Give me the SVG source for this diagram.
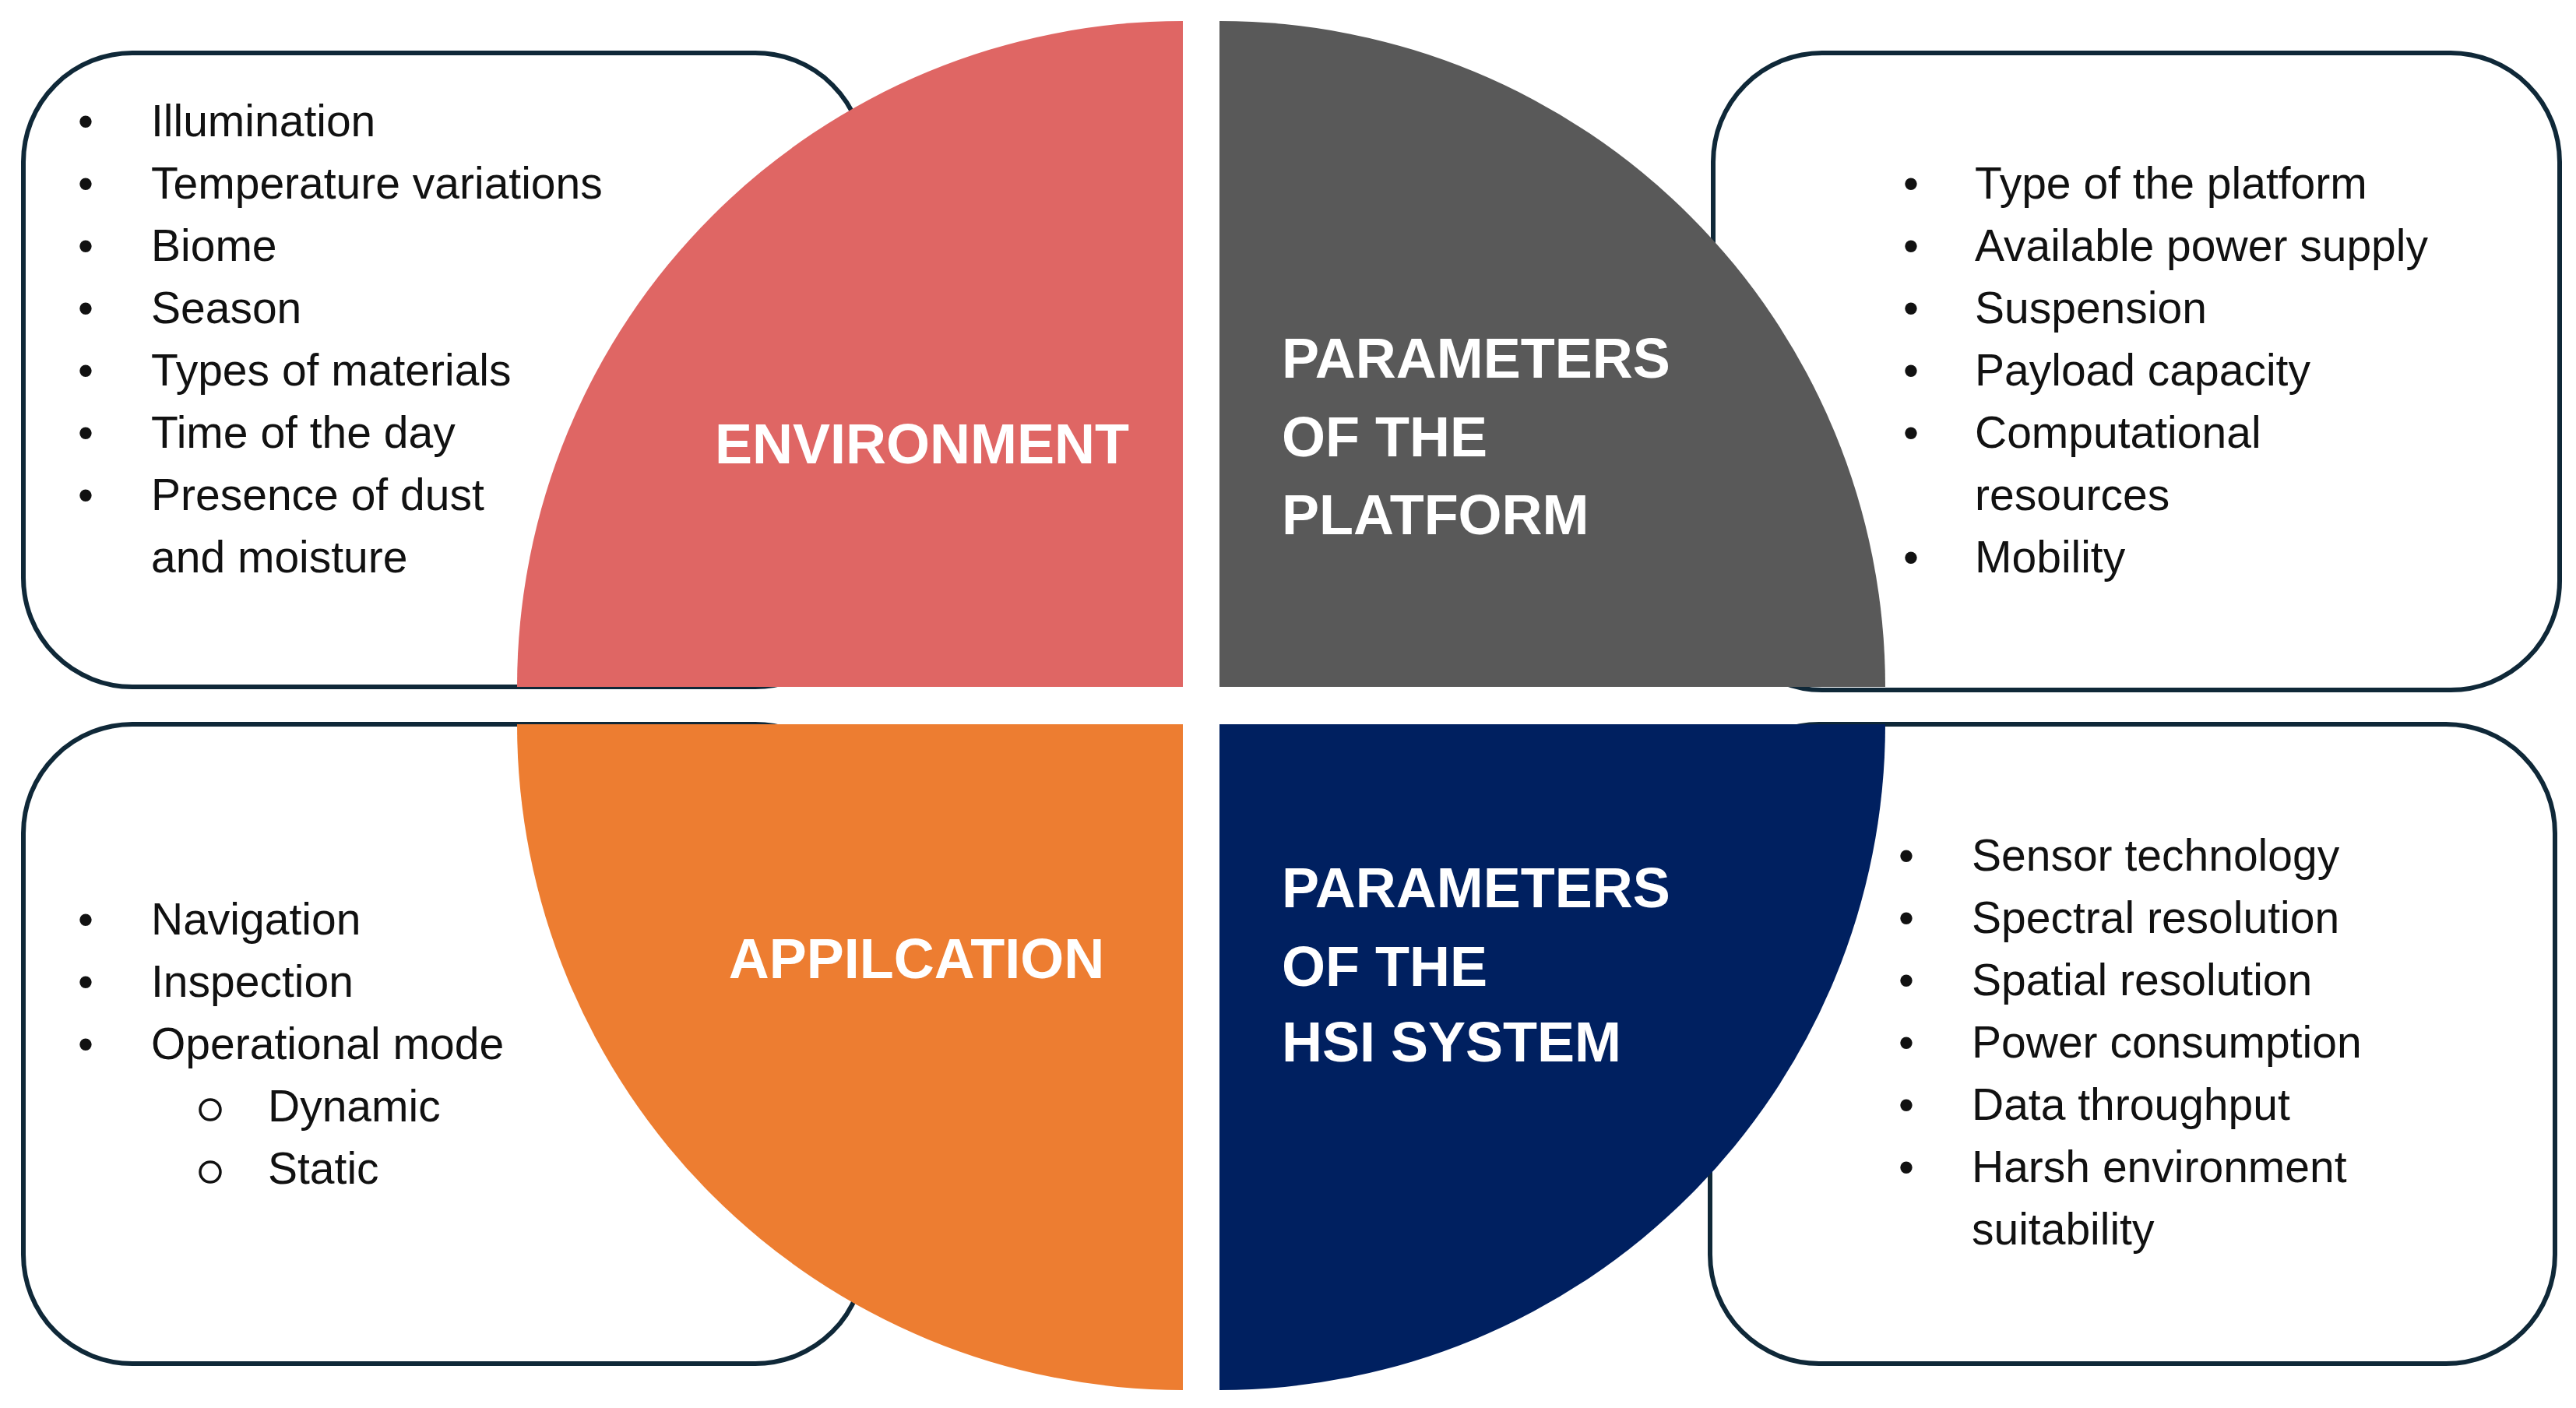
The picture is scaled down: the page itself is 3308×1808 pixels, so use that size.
<svg xmlns="http://www.w3.org/2000/svg" width="3308" height="1808" viewBox="0 0 3308 1808">
<style>
.box{fill:#fff;stroke:#0f2838;stroke-width:6}
.t{font-family:"Liberation Sans",Arial,sans-serif;font-size:57px;fill:#111}
.h{font-family:"Liberation Sans",Arial,sans-serif;font-size:72px;font-weight:bold;fill:#fff}
</style>
<rect width="3308" height="1808" fill="#fff"/>
<g id="box-env"><rect class="box" x="30" y="68" width="1080" height="814" rx="140"/></g>
<g id="box-platform"><rect class="box" x="2200" y="68" width="1087" height="818" rx="140"/></g>
<g id="box-app"><rect class="box" x="30" y="930" width="1080" height="821" rx="140"/></g>
<g id="box-hsi"><rect class="box" x="2196" y="930" width="1085" height="821" rx="140"/></g>
<g id="q-env"><path d="M1519,882 L664,882 A855,855 0 0 1 1519,27 Z" fill="#df6664"/>
<text class="h" x="1184" y="595" text-anchor="middle">ENVIRONMENT</text></g>
<g id="q-platform"><path d="M1566,882 L1566,27 A855,855 0 0 1 2421,882 Z" fill="#595959"/>
<text class="h" x="1646" y="485">PARAMETERS</text><text class="h" x="1646" y="586">OF THE</text><text class="h" x="1646" y="686">PLATFORM</text></g>
<g id="q-app"><path d="M1519,930 L664,930 A855,855 0 0 0 1519,1785 Z" fill="#ed7d31"/>
<text class="h" x="1177" y="1256" text-anchor="middle">APPILCATION</text></g>
<g id="q-hsi"><path d="M1566,930 L2421,930 A855,855 0 0 1 1566,1785 Z" fill="#002060"/>
<text class="h" x="1646" y="1165">PARAMETERS</text><text class="h" x="1646" y="1266">OF THE</text><text class="h" x="1646" y="1363">HSI SYSTEM</text></g>
<g id="connectors"/>
<g id="list-env" class="t">
<text class="t" x="100" y="175">•</text><text class="t" x="194" y="175">Illumination</text>
<text class="t" x="100" y="255">•</text><text class="t" x="194" y="255">Temperature variations</text>
<text class="t" x="100" y="335">•</text><text class="t" x="194" y="335">Biome</text>
<text class="t" x="100" y="415">•</text><text class="t" x="194" y="415">Season</text>
<text class="t" x="100" y="495">•</text><text class="t" x="194" y="495">Types of materials</text>
<text class="t" x="100" y="575">•</text><text class="t" x="194" y="575">Time of the day</text>
<text class="t" x="100" y="655">•</text><text class="t" x="194" y="655">Presence of dust</text>
<text class="t" x="194" y="735">and moisture</text>
</g>
<g id="list-platform">
<text class="t" x="2444" y="255">•</text><text class="t" x="2536" y="255">Type of the platform</text>
<text class="t" x="2444" y="335">•</text><text class="t" x="2536" y="335">Available power supply</text>
<text class="t" x="2444" y="415">•</text><text class="t" x="2536" y="415">Suspension</text>
<text class="t" x="2444" y="495">•</text><text class="t" x="2536" y="495">Payload capacity</text>
<text class="t" x="2444" y="575">•</text><text class="t" x="2536" y="575">Computational</text>
<text class="t" x="2536" y="655">resources</text>
<text class="t" x="2444" y="735">•</text><text class="t" x="2536" y="735">Mobility</text>
</g>
<g id="list-app">
<text class="t" x="100" y="1200">•</text><text class="t" x="194" y="1200">Navigation</text>
<text class="t" x="100" y="1280">•</text><text class="t" x="194" y="1280">Inspection</text>
<text class="t" x="100" y="1360">•</text><text class="t" x="194" y="1360">Operational mode</text>
<circle cx="270" cy="1425" r="13" fill="none" stroke="#111" stroke-width="3.5"/><text class="t" x="344" y="1440">Dynamic</text>
<circle cx="270" cy="1505" r="13" fill="none" stroke="#111" stroke-width="3.5"/><text class="t" x="344" y="1520">Static</text>
</g>
<g id="list-hsi">
<text class="t" x="2438" y="1118">•</text><text class="t" x="2532" y="1118">Sensor technology</text>
<text class="t" x="2438" y="1198">•</text><text class="t" x="2532" y="1198">Spectral resolution</text>
<text class="t" x="2438" y="1278">•</text><text class="t" x="2532" y="1278">Spatial resolution</text>
<text class="t" x="2438" y="1358">•</text><text class="t" x="2532" y="1358">Power consumption</text>
<text class="t" x="2438" y="1438">•</text><text class="t" x="2532" y="1438">Data throughput</text>
<text class="t" x="2438" y="1518">•</text><text class="t" x="2532" y="1518">Harsh environment</text>
<text class="t" x="2532" y="1598">suitability</text>
</g>
</svg>
